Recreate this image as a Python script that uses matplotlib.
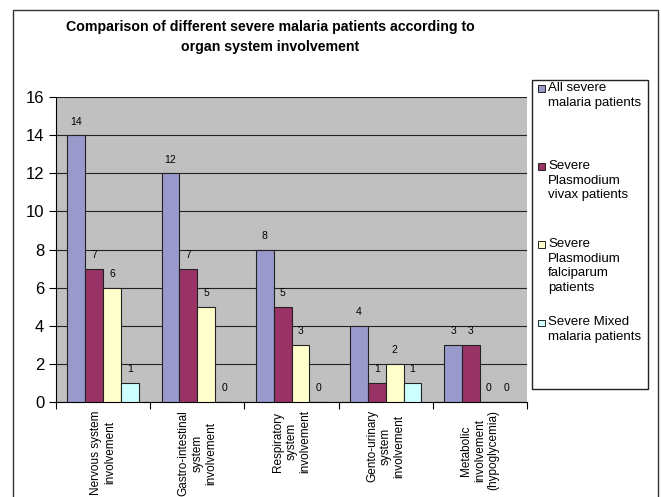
import matplotlib
matplotlib.use("Agg")
import matplotlib.pyplot as plt
from matplotlib.patches import Rectangle
import numpy as np

plt.rcParams['font.family'] = ['Liberation Sans', 'DejaVu Sans']

# Data
categories = ["Nervous system\ninvolvement",
              "Gastro-intestinal\nsystem\ninvolvement",
              "Respiratory\nsystem\ninvolvement",
              "Gento-urinary\nsystem\ninvolvement",
              "Metabolic\ninvolvement\n(hypoglycemia)"]
series_names = ["All severe\nmalaria patients",
                "Severe\nPlasmodium\nvivax patients",
                "Severe\nPlasmodium\nfalciparum\npatients",
                "Severe Mixed\nmalaria patients"]
all_severe = [14, 12, 8, 4, 3]
vivax = [7, 7, 5, 1, 3]
falciparum = [6, 5, 3, 2, 0]
mixed = [1, 0, 0, 1, 0]
colors = ["#9999cc", "#993366", "#ffffcc", "#ccffff"]

series = [all_severe, vivax, falciparum, mixed]

fig = plt.figure(figsize=(6.61, 4.97), dpi=100)
ax = fig.add_axes([56 / 661, 1 - 402 / 497, (527 - 56) / 661, (402 - 97) / 497])
ax.set_facecolor("#c0c0c0")

x = np.arange(len(categories))
width = 0.19
for i, (vals, col) in enumerate(zip(series, colors)):
    pos = x + (i - 1.5) * width
    ax.bar(pos, vals, width, color=col, edgecolor="#222222", linewidth=0.8, zorder=3)
    for p, v in zip(pos, vals):
        ax.text(p, v + 0.45, str(v), ha="center", va="bottom", fontsize=7.5, zorder=4)

ax.set_xlim(-0.5, len(categories) - 0.5)
ax.set_ylim(0, 16)
ax.set_yticks(range(0, 17, 2))
ax.tick_params(axis="y", labelsize=12, length=5, direction="out", width=0.8)
ax.yaxis.grid(True, color="#222222", linewidth=0.8, zorder=0)
ax.set_axisbelow(True)

# category labels at the centre, tick marks at the group boundaries
ax.set_xticks(x)
ax.set_xticklabels(categories, rotation=90, fontsize=8.5, va="top", ha="center",
                   multialignment="center", linespacing=1.2)
ax.tick_params(axis="x", length=0, pad=6)
ax.set_xticks(np.arange(-0.5, len(categories), 1), minor=True)
ax.tick_params(axis="x", which="minor", length=5, direction="out", width=0.8)

for s in ["top", "right"]:
    ax.spines[s].set_visible(False)
for s in ["left", "bottom"]:
    ax.spines[s].set_linewidth(0.8)

# title
fig.text(270 / 661, 1 - 37 / 497,
         "Comparison of different severe malaria patients according to\norgan system involvement",
         ha="center", va="center", fontsize=10.2, fontweight="bold", linespacing=1.6)

# outer frame
fig.patches.append(Rectangle((13 / 661, -0.05), (658 - 13) / 661, 1.05 - 10 / 497,
                             transform=fig.transFigure, fill=False,
                             edgecolor="#333333", linewidth=1))

# legend box, drawn like the spreadsheet legend with equal slots
lx0, lx1, ly0, ly1 = 532, 648, 80, 389
fig.patches.append(Rectangle((lx0 / 661, 1 - ly1 / 497), (lx1 - lx0) / 661, (ly1 - ly0) / 497,
                             transform=fig.transFigure, facecolor="white",
                             edgecolor="#222222", linewidth=1))
for i, (name, col) in enumerate(zip(series_names, colors)):
    ytop = 82 + i * 78
    fig.patches.append(Rectangle((538 / 661, 1 - (ytop + 10) / 497), 6.5 / 661, 6.5 / 497,
                                 transform=fig.transFigure, facecolor=col,
                                 edgecolor="#222222", linewidth=0.7))
    fig.text(548 / 661, 1 - ytop / 497, name, ha="left", va="top", fontsize=9.5,
             linespacing=1.3)

fig.savefig("out.png", dpi=100)
